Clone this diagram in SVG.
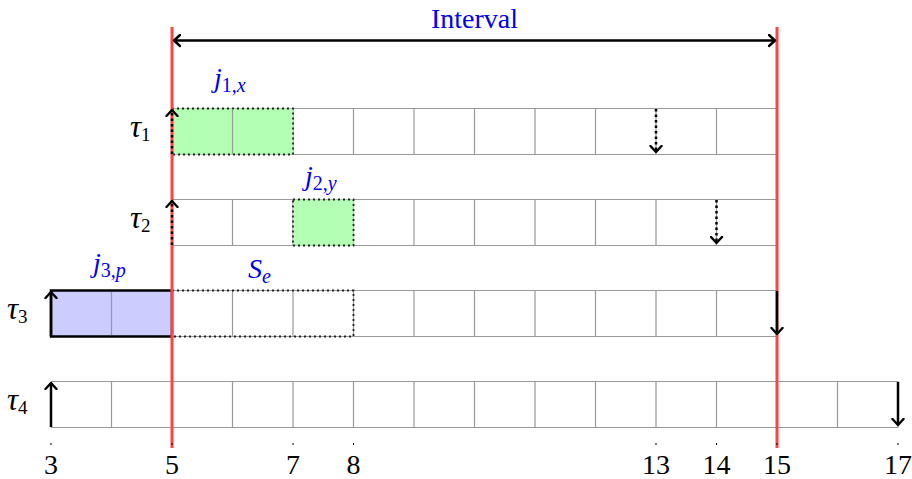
<svg xmlns="http://www.w3.org/2000/svg" width="912" height="479" viewBox="0 0 912 479">
<defs>
<marker id="chev" viewBox="-7 -7 9 14" markerWidth="9" markerHeight="14" refX="0" refY="0" orient="auto" markerUnits="userSpaceOnUse">
<path d="M-6,-5.5 L0,0 L-6,5.5" fill="none" stroke="#000" stroke-width="2.4" stroke-linecap="round" stroke-linejoin="round"/>
</marker>
<marker id="chevs" viewBox="-7 -7 9 14" markerWidth="9" markerHeight="14" refX="0" refY="0" orient="auto-start-reverse" markerUnits="userSpaceOnUse">
<path d="M-6,-5.5 L0,0 L-6,5.5" fill="none" stroke="#000" stroke-width="2.4" stroke-linecap="round" stroke-linejoin="round"/>
</marker>
</defs>
<style>
.grid{fill:none;stroke:#999;stroke-width:1.2}
.red{stroke:#f44;stroke-width:3}
text{font-family:"Liberation Serif","Times New Roman",serif}
.txt{font-size:28px;fill:#000}
.tau{font-size:31px;fill:#000}
.blue{fill:#0000ee}
.it{font-style:italic}
.sub{font-size:19px}
.jsub{font-size:20px}
.num{font-size:28px;fill:#000;text-anchor:middle}
.solid{stroke:#000;stroke-width:2.5;fill:none;marker-end:url(#chev)}
.dotted{stroke:#000;stroke-width:2.5;stroke-dasharray:2.5 3;fill:none;marker-end:url(#chev)}
.dotbox{stroke:#222;stroke-width:1.8;stroke-dasharray:2 3}
.tick{stroke:#000;stroke-width:1}
</style>
<rect width="912" height="479" fill="#fff"/>

<g id="row1">
<path class="grid" d="M172,108.5H777M172,154.5H777M232.5,108V155M293,108V155M353.5,108V155M414,108V155M474.5,108V155M535,108V155M595.5,108V155M656,108V155M716.5,108V155"/>
</g>
<g id="row2">
<path class="grid" d="M172,199.5H777M172,245.5H777M232.5,199V246M293,199V246M353.5,199V246M414,199V246M474.5,199V246M535,199V246M595.5,199V246M656,199V246M716.5,199V246"/>
</g>
<g id="row3">
<path class="grid" d="M51,290.5H777M51,336.5H777M111.5,290V337M172,290V337M232.5,290V337M293,290V337M353.5,290V337M414,290V337M474.5,290V337M535,290V337M595.5,290V337M656,290V337M716.5,290V337"/>
</g>
<g id="row4">
<path class="grid" d="M51,381.5H898M51,427.5H898M111.5,381V428M172,381V428M232.5,381V428M293,381V428M353.5,381V428M414,381V428M474.5,381V428M535,381V428M595.5,381V428M656,381V428M716.5,381V428M777,381V428M837.5,381V428M898,381V428"/>
</g>

<g id="job1">
<rect x="172" y="108.5" width="121" height="46" fill="#b3ffb3" class="dotbox"/>
<line x1="232.5" y1="109" x2="232.5" y2="154" stroke="#999" stroke-width="1.2"/>
</g>
<g id="job2">
<rect x="293" y="199.5" width="60.5" height="46" fill="#b3ffb3" class="dotbox"/>
</g>
<g id="job3">
<rect x="51" y="290.5" width="121" height="46" fill="#ccccff" stroke="#000" stroke-width="2.5"/>
<line x1="111.5" y1="292" x2="111.5" y2="335" stroke="#999" stroke-width="1.2"/>
</g>
<g id="se">
<rect x="172" y="290.5" width="181.5" height="46" fill="none" class="dotbox"/>
</g>

<g id="redlines">
<line class="red" x1="172" y1="27" x2="172" y2="448"/>
<line class="red" x1="777" y1="27" x2="777" y2="448"/>
</g>

<g id="connectors">
<line x1="174" y1="40.5" x2="775" y2="40.5" stroke="#000" stroke-width="2.5" marker-start="url(#chevs)" marker-end="url(#chevs)"/>
<line class="dotted" x1="172" y1="154" x2="172" y2="110"/>
<line class="dotted" x1="172" y1="245" x2="172" y2="201"/>
<line class="solid" x1="51" y1="336" x2="51" y2="292"/>
<line class="solid" x1="51" y1="427" x2="51" y2="383"/>
<line class="dotted" x1="656" y1="109" x2="656" y2="152"/>
<line class="dotted" x1="716.5" y1="200" x2="716.5" y2="243"/>
<line class="solid" x1="777" y1="291" x2="777" y2="334"/>
<line class="solid" x1="898" y1="382" x2="898" y2="425"/>
</g>

<g id="ticks">
<path class="tick" d="M51,443V445M172,443V445M293,443V445M353.5,443V445M656,443V445M716.5,443V445M777,443V445M898,443V445"/>
</g>

<g id="labels">
<text class="txt blue" x="474.5" y="28" text-anchor="middle">Interval</text>
<text class="tau" x="130" y="137"><tspan class="it">τ</tspan><tspan class="sub" dy="4">1</tspan></text>
<text class="tau" x="130" y="228"><tspan class="it">τ</tspan><tspan class="sub" dy="4">2</tspan></text>
<text class="tau" x="7" y="319"><tspan class="it">τ</tspan><tspan class="sub" dy="4">3</tspan></text>
<text class="tau" x="7" y="410"><tspan class="it">τ</tspan><tspan class="sub" dy="4">4</tspan></text>
<text class="txt blue" x="214" y="87"><tspan class="it">j</tspan><tspan class="jsub" dy="5">1,<tspan class="it">x</tspan></tspan></text>
<text class="txt blue" x="305" y="185"><tspan class="it">j</tspan><tspan class="jsub" dy="5">2,<tspan class="it">y</tspan></tspan></text>
<text class="txt blue" x="93" y="272"><tspan class="it">j</tspan><tspan class="jsub" dy="5">3,<tspan class="it">p</tspan></tspan></text>
<text class="txt blue" x="248" y="278"><tspan class="it">S</tspan><tspan class="jsub it" dy="5">e</tspan></text>
</g>

<g id="axis">
<text class="num" x="51" y="474">3</text>
<text class="num" x="172" y="474">5</text>
<text class="num" x="293" y="474">7</text>
<text class="num" x="353.5" y="474">8</text>
<text class="num" x="656" y="474">13</text>
<text class="num" x="716.5" y="474">14</text>
<text class="num" x="777" y="474">15</text>
<text class="num" x="898" y="474">17</text>
</g>
</svg>
